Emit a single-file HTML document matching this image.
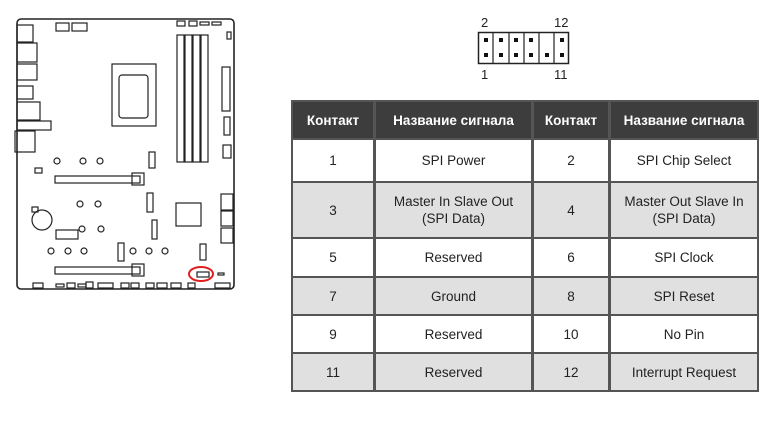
<!DOCTYPE html>
<html><head><meta charset="utf-8"><style>
body{margin:0;width:780px;height:424px;background:#fff;position:relative;overflow:hidden;font-family:"Liberation Sans","DejaVu Sans",sans-serif;}
.c{position:absolute;box-sizing:border-box;display:flex;align-items:center;justify-content:center;text-align:center;font-size:13.5px;color:#222;line-height:17px;}
.h{background:#3d3d3d;color:#fff;font-weight:bold;font-size:13.5px;}
.g{background:#e0e0e0;}
.pl{position:absolute;font-size:13px;color:#222;}
</style></head><body>
<svg width="780" height="424" style="position:absolute;left:0;top:0" fill="none" stroke="#222" stroke-width="1.2">
<rect x="17" y="19" width="217" height="270" rx="4" stroke-width="1.6"/>
<rect x="56" y="23" width="13" height="8"/><rect x="72" y="23" width="15" height="8"/>
<rect x="177" y="21" width="8" height="5"/><rect x="189" y="21" width="8" height="5"/><rect x="200" y="22" width="9" height="3"/><rect x="212" y="22" width="9" height="3"/>
<rect x="227" y="32" width="4" height="7"/>
<rect x="17" y="25" width="16" height="17"/><rect x="17" y="43" width="20" height="19"/><rect x="17" y="64" width="20" height="16"/><rect x="17" y="86" width="16" height="13"/><rect x="17" y="102" width="23" height="18"/><rect x="17" y="121" width="34" height="9"/><rect x="15" y="131" width="20" height="21"/>
<rect x="112" y="64" width="44" height="62"/><rect x="119" y="75" width="29" height="43" rx="3"/>
<rect x="177" y="35" width="7" height="127"/><rect x="185" y="35" width="7" height="127"/><rect x="193" y="35" width="7" height="127"/><rect x="201" y="35" width="7" height="127"/>
<rect x="222" y="67" width="8" height="44"/><rect x="224" y="117" width="6" height="18"/><rect x="223" y="145" width="8" height="13"/>
<circle cx="57" cy="161" r="3"/><circle cx="83" cy="161" r="3"/><circle cx="100" cy="161" r="3"/>
<rect x="35" y="168" width="7" height="5"/><rect x="55" y="176" width="85" height="7"/><rect x="132" y="173" width="12" height="12"/>
<rect x="149" y="152" width="6" height="16"/>
<circle cx="80" cy="204" r="3"/><circle cx="98" cy="204" r="3"/><rect x="147" y="193" width="6" height="19"/>
<circle cx="42" cy="220" r="10"/><rect x="32" y="207" width="6" height="5"/>
<circle cx="82" cy="229" r="3"/><circle cx="101" cy="229" r="3"/><rect x="56" y="230" width="22" height="9"/><rect x="152" y="220" width="5" height="19"/>
<rect x="176" y="203" width="25" height="23"/>
<rect x="221" y="194" width="12" height="16"/><rect x="221" y="211" width="12" height="15"/><rect x="221" y="228" width="12" height="15"/>
<circle cx="51" cy="251" r="3"/><circle cx="68" cy="251" r="3"/><circle cx="84" cy="251" r="3"/><rect x="118" y="243" width="6" height="18"/><circle cx="133" cy="251" r="3"/><circle cx="149" cy="251" r="3"/><circle cx="165" cy="251" r="3"/>
<rect x="200" y="244" width="6" height="16"/>
<rect x="55" y="267" width="85" height="7"/><rect x="132" y="264" width="12" height="12"/>
<rect x="197" y="272" width="12" height="5"/><rect x="218" y="273" width="6" height="2"/>
<rect x="33" y="283" width="10" height="5"/><rect x="56" y="284" width="8" height="3"/><rect x="67" y="283" width="8" height="5"/><rect x="78" y="284" width="8" height="3"/><rect x="86" y="282" width="7" height="6"/><rect x="98" y="283" width="15" height="5"/><rect x="121" y="283" width="8" height="5"/><rect x="131" y="283" width="8" height="5"/><rect x="146" y="283" width="8" height="5"/><rect x="157" y="283" width="10" height="5"/><rect x="171" y="283" width="10" height="5"/><rect x="188" y="283" width="7" height="5"/><rect x="215" y="283" width="15" height="5"/>
<ellipse cx="201" cy="274" rx="12" ry="7" stroke="#e02020" stroke-width="2"/>
<rect x="478.5" y="32.5" width="90" height="31" stroke-width="1.5"/>
<g stroke-width="1.2"><line x1="493" y1="32" x2="493" y2="64"/><line x1="509" y1="32" x2="509" y2="64"/><line x1="524" y1="32" x2="524" y2="64"/><line x1="539" y1="32" x2="539" y2="64"/><line x1="554" y1="32" x2="554" y2="64"/></g>
<g fill="#111" stroke="none">
<rect x="484" y="38" width="4" height="4"/><rect x="499" y="38" width="4" height="4"/><rect x="514" y="38" width="4" height="4"/><rect x="529" y="38" width="4" height="4"/><rect x="560" y="38" width="4" height="4"/>
<rect x="484" y="53" width="4" height="4"/><rect x="499" y="53" width="4" height="4"/><rect x="514" y="53" width="4" height="4"/><rect x="529" y="53" width="4" height="4"/><rect x="545" y="53" width="4" height="4"/><rect x="560" y="53" width="4" height="4"/>
</g>
</svg>
<div class="pl" style="left:481px;top:15px">2</div><div class="pl" style="left:554px;top:15px">12</div>
<div class="pl" style="left:481px;top:67px">1</div><div class="pl" style="left:554px;top:67px">11</div>
<div style="position:absolute;left:291px;top:100px;width:468px;height:292px;background:#555"></div>
<div class="c h" style="left:293px;top:102px;width:80px;height:36px">Контакт</div>
<div class="c h" style="left:376px;top:102px;width:155px;height:36px">Название сигнала</div>
<div class="c h" style="left:534px;top:102px;width:74px;height:36px">Контакт</div>
<div class="c h" style="left:611px;top:102px;width:146px;height:36px">Название сигнала</div>

<div class="c" style="left:293px;top:140px;width:80px;height:41px;background:#fff">1</div>
<div class="c" style="left:376px;top:140px;width:155px;height:41px;background:#fff">SPI Power</div>
<div class="c" style="left:534px;top:140px;width:74px;height:41px;background:#fff">2</div>
<div class="c" style="left:611px;top:140px;width:146px;height:41px;background:#fff">SPI Chip Select</div>

<div class="c g" style="left:293px;top:183px;width:80px;height:54px">3</div>
<div class="c g" style="left:376px;top:183px;width:155px;height:54px">Master In Slave Out<br>(SPI Data)</div>
<div class="c g" style="left:534px;top:183px;width:74px;height:54px">4</div>
<div class="c g" style="left:611px;top:183px;width:146px;height:54px">Master Out Slave In<br>(SPI Data)</div>

<div class="c" style="left:293px;top:239px;width:80px;height:37px;background:#fff">5</div>
<div class="c" style="left:376px;top:239px;width:155px;height:37px;background:#fff">Reserved</div>
<div class="c" style="left:534px;top:239px;width:74px;height:37px;background:#fff">6</div>
<div class="c" style="left:611px;top:239px;width:146px;height:37px;background:#fff">SPI Clock</div>

<div class="c g" style="left:293px;top:278px;width:80px;height:36px">7</div>
<div class="c g" style="left:376px;top:278px;width:155px;height:36px">Ground</div>
<div class="c g" style="left:534px;top:278px;width:74px;height:36px">8</div>
<div class="c g" style="left:611px;top:278px;width:146px;height:36px">SPI Reset</div>

<div class="c" style="left:293px;top:316px;width:80px;height:36px;background:#fff">9</div>
<div class="c" style="left:376px;top:316px;width:155px;height:36px;background:#fff">Reserved</div>
<div class="c" style="left:534px;top:316px;width:74px;height:36px;background:#fff">10</div>
<div class="c" style="left:611px;top:316px;width:146px;height:36px;background:#fff">No Pin</div>

<div class="c g" style="left:293px;top:354px;width:80px;height:36px">11</div>
<div class="c g" style="left:376px;top:354px;width:155px;height:36px">Reserved</div>
<div class="c g" style="left:534px;top:354px;width:74px;height:36px">12</div>
<div class="c g" style="left:611px;top:354px;width:146px;height:36px">Interrupt Request</div>
</body></html>
